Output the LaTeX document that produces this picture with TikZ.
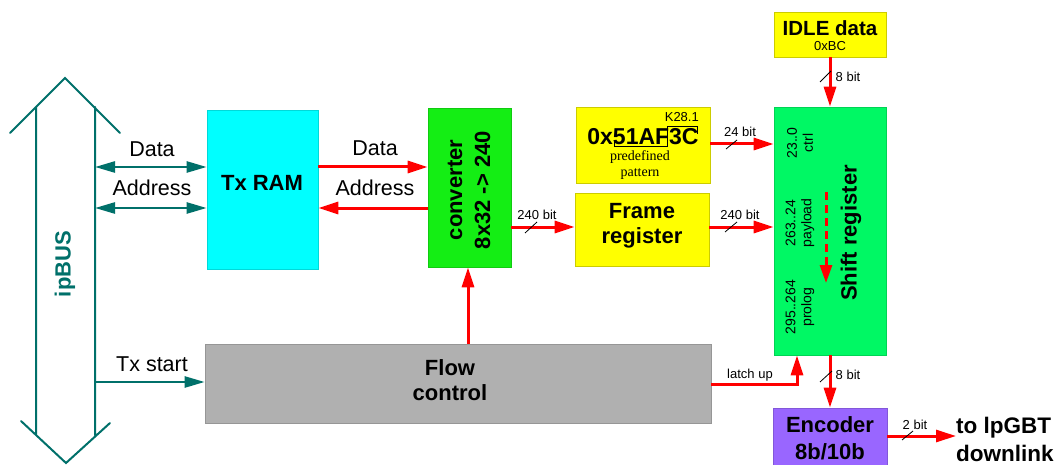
\documentclass[tikz,border=0pt]{standalone}
\usepackage{fontspec}
\setmainfont{Liberation Sans}
\newfontfamily\seriffam{Liberation Serif}
\usetikzlibrary{arrows.meta}
\definecolor{busteal}{RGB}{0,112,106}
\definecolor{ramcyan}{RGB}{0,255,255}
\definecolor{convgreen}{RGB}{20,238,20}
\definecolor{shiftgreen}{RGB}{0,248,100}
\definecolor{boxyellow}{RGB}{255,255,0}
\definecolor{flowgray}{RGB}{176,176,176}
\definecolor{encpurple}{RGB}{153,102,255}
\begin{document}
\begin{tikzpicture}[x=1pt,y=-1pt,
  box/.style={rectangle, inner sep=0pt, line width=0.7pt},
  big/.style={font=\fontsize{22}{25}\selectfont\bfseries, align=center, inner sep=0pt},
  lbl/.style={font=\fontsize{21.5}{24}\selectfont, inner sep=0pt},
  small/.style={font=\fontsize{13}{15}\selectfont, inner sep=0pt, align=center},
  redarr/.style={draw=red, line width=3pt, -{Triangle[length=20pt,width=12pt]}},
  busarr/.style={draw=busteal, line width=2.5pt, -{Triangle[length=20pt,width=11pt]}},
  busdbl/.style={draw=busteal, line width=2.5pt, {Triangle[length=20pt,width=11pt]}-{Triangle[length=20pt,width=11pt]}},
  slash/.style={draw=black, line width=0.8pt}
]
\useasboundingbox (0,0) rectangle (1054,465);

% ipBUS outline
\draw[busteal, line width=2pt, line cap=round]
  (10,133) -- (65,78) -- (120,133)
  (21,421) -- (66,463) -- (110,423)
  (36,107) -- (36,435)
  (95,107) -- (95,435);
\node[big, text=busteal, rotate=90] (busl) at (65,264) {ipBUS};
\coordinate (bd) at (95,167);
\coordinate (ba) at (95,208);
\coordinate (bt) at (95,382);

% boxes
\node[box, fill=ramcyan, draw=ramcyan!85!black, minimum width=111pt, minimum height=159pt] (ram) at (262.5,189.5) {};
\node[big] (ramt) at (262,183) {Tx RAM};
\node[box, fill=convgreen, draw=convgreen!85!black, minimum width=83pt, minimum height=159pt] (conv) at (469.5,187.5) {};
\node[big, rotate=90, font=\fontsize{22}{28}\selectfont\bfseries] (convt) at (469,190) {converter\\8x32 -> 240};
\node[box, fill=boxyellow, draw=boxyellow!80!black, minimum width=134pt, minimum height=76pt] (pat) at (643,145) {};
\node[inner sep=0pt, font=\fontsize{23}{26}\selectfont\bfseries, anchor=base] (patv) at (643,145) {0x51AF3C};
\node[small, anchor=base east] (k) at (699,122) {K28.1};
\node[inner sep=0pt, font=\seriffam\fontsize{14}{16}\selectfont, align=center] (patd) at (640,165) {predefined\\pattern};
\draw[black, line width=1pt] (614,141) -- (614,147) -- (667,147) -- (667,127) -- (697,127) -- (697,134);
\node[box, fill=boxyellow, draw=boxyellow!80!black, minimum width=134pt, minimum height=73pt] (frame) at (642,229.5) {};
\node[big] (framet) at (642,226) {Frame\\register};
\node[box, fill=boxyellow, draw=boxyellow!80!black, minimum width=112pt, minimum height=45pt] (idle) at (830,34.5) {};
\node[inner sep=0pt, font=\fontsize{20.5}{24}\selectfont\bfseries] (idlet) at (830,28) {IDLE data};
\node[small] (idlev) at (830,46) {0xBC};
\node[box, fill=shiftgreen, draw=shiftgreen!85!black, minimum width=112pt, minimum height=248pt] (shift) at (830,231) {};
\node[big, rotate=90] (shiftt) at (851,233) {Shift register};
\node[small, rotate=90, font=\fontsize{14}{16}\selectfont] (s1) at (800,143) {23..0\\ctrl};
\node[small, rotate=90, font=\fontsize{14}{16}\selectfont] (s2) at (800,223) {263..24\\payload};
\node[small, rotate=90, font=\fontsize{14}{16}\selectfont] (s3) at (800,307) {295..264\\prolog};
\draw[red, line width=3pt, dash pattern=on 8pt off 5pt, -{Triangle[length=18pt,width=12pt]}] (826,192) -- (826,283);
\node[box, fill=encpurple, draw=encpurple!85!black, minimum width=114pt, minimum height=58pt] (enc) at (830,437) {};
\node[big, font=\fontsize{22}{27}\selectfont\bfseries] (enct) at (830,438) {Encoder\\8b/10b};
\node[box, fill=flowgray, draw=flowgray!85!black, minimum width=506pt, minimum height=79pt] (flow) at (458,383.5) {};
\node[big] (flowt) at (450,380) {Flow\\control};
\node[big, align=left, anchor=west, font=\fontsize{22.5}{28}\selectfont\bfseries] (out) at (956,439) {to lpGBT\\downlink};

% bus connections
\draw[busdbl] (bd) -- (ram.west |- bd);
\draw[busdbl] (ba) -- (ram.west |- ba);
\draw[busarr] (bt) -- (flow.west |- bt);
\node[lbl] (ld) at (152,149) {Data};
\node[lbl] (la) at (152,188) {Address};
\node[lbl] (lt) at (152,364) {Tx start};

% red connections
\draw[redarr] (ram.east |- 0,167) -- (conv.west |- 0,167);
\draw[redarr] (conv.west |- 0,208) -- (ram.east |- 0,208);
\node[lbl] (md) at (375,148) {Data};
\node[lbl] (ma) at (375,188) {Address};

\draw[redarr] (conv.east |- 0,227) -- (frame.west |- 0,227);
\node[small] (l240a) at (537,215) {240 bit};
\draw[slash] (525,233) -- (537,222);

\draw[redarr] (pat.east |- 0,144) -- (shift.west |- 0,144);
\node[small] (l24) at (740,132) {24 bit};
\draw[slash] (726,149) -- (737,140);

\draw[redarr] (frame.east |- 0,227) -- (shift.west |- 0,227);
\node[small] (l240b) at (740,215) {240 bit};
\draw[slash] (725,232) -- (737,222);

\draw[redarr] (idle.south) -- (shift.north);
\node[small] (l8a) at (848,77) {8 bit};
\draw[slash] (820,82) -- (831,71);

\draw[redarr] (flow.north -| 468,0) -- (conv.south -| 468,0);

\draw[redarr] (flow.east |- 0,384) -| (shift.south -| 797,0);
\node[small] (llu) at (750,375) {latch up};

\draw[redarr] (shift.south) -- (enc.north);
\node[small] (l8b) at (848,375) {8 bit};
\draw[slash] (820,382) -- (832,371);

\draw[redarr] (enc.east |- 0,436) -- (out.west |- 0,436);
\node[small] (l2) at (915,425) {2 bit};
\draw[slash] (902,440) -- (913,431);
\end{tikzpicture}
\end{document}
